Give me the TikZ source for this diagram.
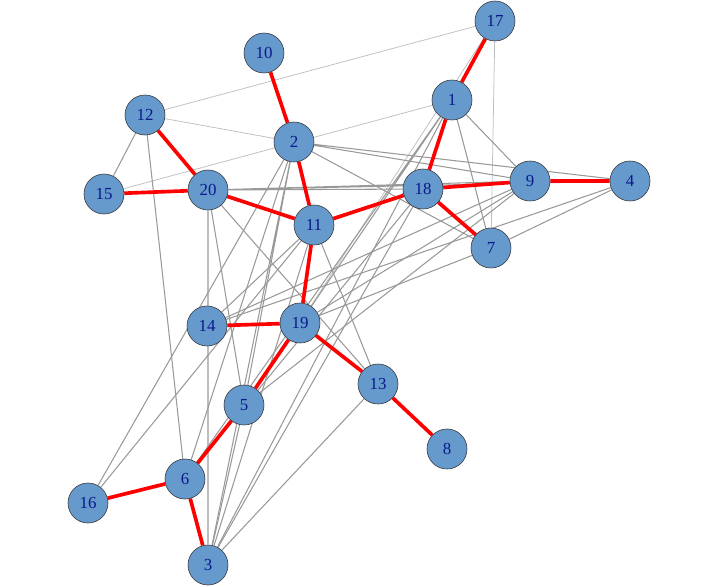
\documentclass[tikz,border=0pt]{standalone}
\usepackage{tikz}
\usepackage{fontspec}
\setmainfont{Liberation Serif}
\usetikzlibrary{backgrounds}
\definecolor{vertblue}{HTML}{6699CC}
\definecolor{labelnavy}{HTML}{0A1A8C}
\definecolor{edgegray}{HTML}{999999}
\definecolor{lightgray}{HTML}{C0C0C0}
\definecolor{treered}{HTML}{FF0000}

\begin{document}
\begin{tikzpicture}[
    x=0.025cm, y=-0.025cm,
    every node/.style={font=\fontsize{12}{14}\selectfont},
    vert/.style={
      circle, draw=black!80, thin,
      minimum size=1cm, inner sep=0pt,
      fill=vertblue, text=labelnavy
    },
    grayedge/.style={draw=edgegray, line width=0.75pt},
    faintedge/.style={draw=lightgray, line width=0.55pt},
    treeedge/.style={draw=treered, line width=2.6pt},
  ]
  \useasboundingbox (0,0) rectangle (720,586);

  % Vertices
  \node[vert] (n1)  at (452,100) {1};
  \node[vert] (n2)  at (294,142) {2};
  \node[vert] (n3)  at (208,565) {3};
  \node[vert] (n4)  at (630,181) {4};
  \node[vert] (n5)  at (244,405) {5};
  \node[vert] (n6)  at (185,479) {6};
  \node[vert] (n7)  at (491,248) {7};
  \node[vert] (n8)  at (447,449) {8};
  \node[vert] (n9)  at (530,181) {9};
  \node[vert] (n10) at (264,53)  {10};
  \node[vert] (n11) at (314,225) {11};
  \node[vert] (n12) at (145,115) {12};
  \node[vert] (n13) at (378,384) {13};
  \node[vert] (n14) at (207,326) {14};
  \node[vert] (n15) at (104,194) {15};
  \node[vert] (n16) at (88,503)  {16};
  \node[vert] (n17) at (495,21)  {17};
  \node[vert] (n18) at (423,189) {18};
  \node[vert] (n19) at (300,323) {19};
  \node[vert] (n20) at (208,190) {20};

  \begin{scope}[on background layer]
    % Other edges
    \draw[faintedge] (n12) -- (n17) (n12) -- (n2) (n15) -- (n1)
      (n17) -- (n7) (n17) -- (n19);
    \draw[grayedge] (n12) -- (n15) (n12) -- (n6);
    \draw[grayedge] (n2) -- (n4) (n2) -- (n9) (n2) -- (n7)
      (n2) -- (n3) (n2) -- (n5) (n2) -- (n6) (n2) -- (n16);
    \draw[grayedge] (n20) -- (n18) (n20) -- (n9) (n20) -- (n4)
      (n20) -- (n3) (n20) -- (n5) (n20) -- (n13);
    \draw[grayedge] (n11) -- (n13) (n11) -- (n14) (n11) -- (n16)
      (n11) -- (n3);
    \draw[grayedge] (n1) -- (n7) (n1) -- (n9) (n1) -- (n3)
      (n1) -- (n6) (n1) -- (n19) (n1) -- (n5);
    \draw[grayedge] (n4) -- (n7) (n4) -- (n14);
    \draw[grayedge] (n18) -- (n3) (n18) -- (n6);
    \draw[grayedge] (n9) -- (n14) (n9) -- (n19) (n9) -- (n5);
    \draw[grayedge] (n19) -- (n7) (n13) -- (n3) (n5) -- (n3);

    % Spanning tree
    \draw[treeedge] (n17) -- (n1) (n1) -- (n18) (n18) -- (n9)
      (n9) -- (n4) (n18) -- (n7) (n18) -- (n11);
    \draw[treeedge] (n10) -- (n2) (n2) -- (n11) (n12) -- (n20)
      (n15) -- (n20) (n20) -- (n11) (n11) -- (n19);
    \draw[treeedge] (n14) -- (n19) (n19) -- (n5) (n19) -- (n13)
      (n13) -- (n8) (n5) -- (n6) (n6) -- (n16) (n6) -- (n3);
  \end{scope}

\end{tikzpicture}
\end{document}
